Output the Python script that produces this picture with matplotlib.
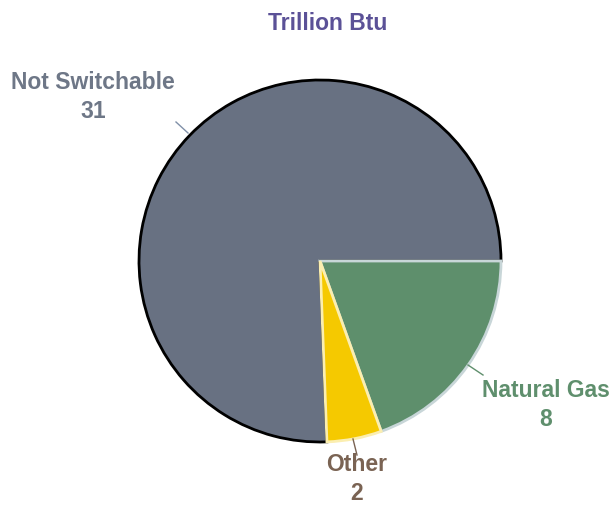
import matplotlib.pyplot as plt

# dane z wykresu (trillion Btu)
kategorie = ["Natural Gas", "Other", "Not Switchable"]
wartosci = [8, 2, 31]
kolory = ["#5e8f6c", "#f5c900", "#687182"]
krawedzie = ["#c8d6d8", "#fbeeb0", "#000000"]
kolory_tekstu = ["#5f8f6d", "#7a6353", "#6e7787"]

plt.rcParams['font.family'] = ['Liberation Sans', 'DejaVu Sans']

fig = plt.figure(figsize=(6.15, 5.06), dpi=100)
ax = fig.add_axes([0, 0, 1, 1])

# srodek kola i promien w pikselach (y od dolu)
cx, cy, r = 320, 506 - 262, 181

wedges, _ = ax.pie(wartosci, startangle=0, counterclock=False,
                   colors=kolory, center=(cx, cy), radius=r, frame=True)
for w, ec in zip(wedges, krawedzie):
    w.set_edgecolor(ec)
    w.set_linewidth(2)
wedges[2].set_zorder(1)
wedges[0].set_zorder(2)
wedges[1].set_zorder(2)
ax.set_xlim(0, 615)
ax.set_ylim(0, 506)
ax.set_aspect('equal')
ax.axis('off')

ax.text(328, 506 - 23, "Trillion Btu", color="#5b5197", fontsize=16.5,
        fontweight='bold', ha='center', va='center')

# etykiety: x, y (srodek bloku), linia prowadzaca
etykiety_xy = [(546, 405), (357, 479), (93, 97)]
linie = [((468, 366), (483, 376)), ((353, 440), (357, 456)), ((176, 123), (188, 134))]
kolory_linii = ["#5f8f6d", "#7a6353", "#8090a8"]

for i in range(3):
    x, y = etykiety_xy[i]
    ax.text(x, 506 - y, kategorie[i] + "\n" + str(wartosci[i]), color=kolory_tekstu[i],
            fontsize=16.5, fontweight='bold', ha='center', va='center', linespacing=1.3)
    (x1, y1), (x2, y2) = linie[i]
    ax.plot([x1, x2], [506 - y1, 506 - y2], color=kolory_linii[i], lw=1, zorder=3)

fig.savefig("out.png", dpi=100)
